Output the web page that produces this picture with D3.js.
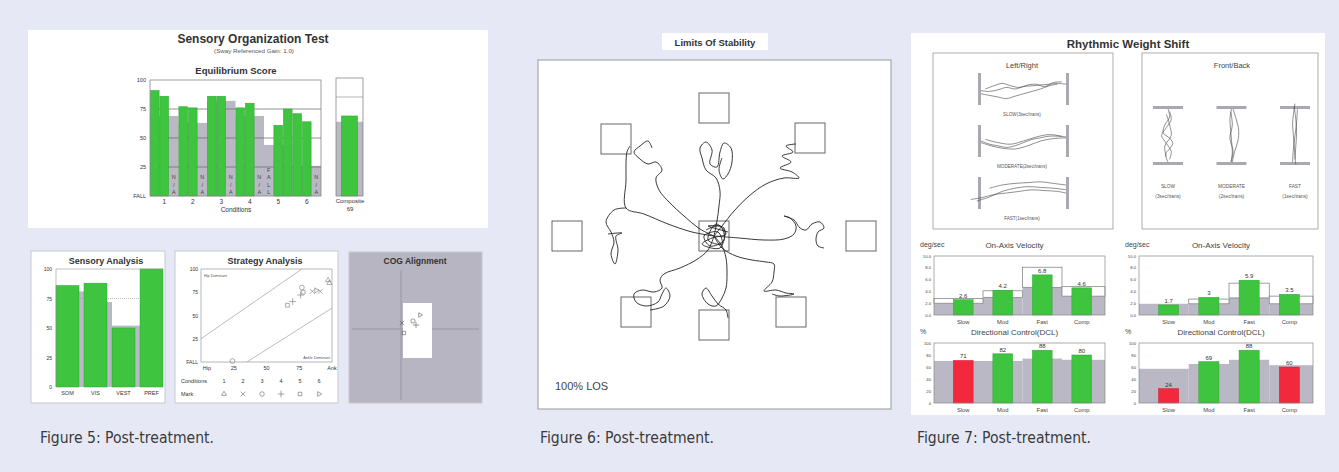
<!DOCTYPE html>
<html>
<head>
<meta charset="utf-8">
<script src="https://cdn.jsdelivr.net/npm/d3@7"></script>
<style>
  body { margin: 0; background: #e6e9f5; }
  svg { display: block; font-family: "Liberation Sans", Arial, sans-serif; }
</style>
</head>
<body>
<script>
"use strict"

// ---------- data ----------
// Figure 5 : Sensory Organization Test
const sotConditions = ["1", "2", "3", "4", "5", "6"];
const sotScores = [[91, 86, null], [77, 76, null], [86, 86, null], [76, 80, null], [null, 61, 75], [71, 64, null]];
const sotNotes = ["N/A", "N/A", "N/A", "N/A", "FALL", "N/A"];   // written in the empty trial slot
const sotNorm = [69, 63, 82, 69, 44, 26];
const sotTicks = [0, 25, 50, 75, 100];
const compositeScore = 69;
const compositeNorm = 64;

const sensoryCats = ["SOM", "VIS", "VEST", "PREF"];
const sensoryValues = [86, 88, 50, 100];
const sensoryNorm = [81, 72, 52, 70];

const strategyTicks = [0, 25, 50, 75, 100];
const strategyXLabels = ["Hip", "25", "50", "75", "Ank"];
const strategyUpper = [[0, 25], [77, 100]];
const strategyLower = [[35, 0], [100, 58]];
const strategyMarks = ["triangle", "times", "circle", "plus", "square", "play"];
const strategyPoints = [
  [1, 97, 88], [1, 98, 85], [2, 85, 76], [2, 91, 76], [3, 77, 80], [3, 24, 1],
  [4, 70, 65], [4, 76, 72], [5, 66, 61], [5, 78, 75], [6, 88, 77]
];
const cogPoints = [[-14, -6, "times"], [-3, -8, "circle"], [4, -14, "play"], [-12, 4, "square"], [0, -4, "plus"]];

// Figure 6 : Limits Of Stability (trace units, centre = 0,0)
const losTargets = [[0, -128], [-98, -97], [96, -98], [-147, 0], [147, 0], [-78, 76], [0, 89], [77, 76], [0, 0]];
const losTraces = [
  [[0, 0], [3, -15], [5, -30], [6, -45], [2, -58], [-8, -66], [-12, -78], [-14, -88], [-8, -94], [-2, -86], [-4, -72], [3, -69], [6, -84], [10, -93], [17, -88], [18, -74], [14, -62], [9, -57], [5, -66], [8, -78]],
  [[0, 0], [-14, -7], [-30, -20], [-44, -33], [-55, -46], [-58, -58], [-52, -66], [-58, -74], [-66, -72], [-74, -77], [-80, -84], [-74, -90], [-66, -95], [-62, -88]],
  [[0, 0], [-22, -4], [-46, -12], [-70, -22], [-88, -28], [-88, -55], [-87, -84], [-84, -90]],
  [[-88, -28], [-100, -26], [-108, -14], [-103, -4], [-100, 6], [-103, 18], [-99, 28], [-96, 14], [-98, 0], [-92, -3], [-106, -2]],
  [[0, 0], [8, -10], [20, -25], [35, -40], [52, -52], [70, -58], [85, -58], [78, -64], [66, -68], [77, -74], [68, -80], [79, -84], [72, -90], [82, -92]],
  [[0, 0], [25, 2], [50, 4], [70, 3], [80, -2], [82, -10], [76, -18], [70, -20], [80, -16], [86, -8], [92, -6], [98, -12], [106, -14], [110, -8], [104, -4], [102, 4], [104, 10], [110, 12]],
  [[0, 0], [8, 12], [22, 20], [38, 24], [52, 26], [60, 28], [60, 36], [58, 46], [50, 55], [62, 54], [72, 57], [80, 58], [66, 60], [58, 58]],
  [[0, 0], [8, 10], [12, 22], [13, 38], [12, 52], [8, 62], [2, 70], [-6, 68], [-12, 58], [-8, 52], [-2, 60], [4, 68], [12, 74], [14, 82]],
  [[0, 0], [-6, 14], [-18, 24], [-34, 32], [-50, 38], [-54, 44], [-52, 52], [-60, 56], [-72, 54], [-80, 58], [-78, 66], [-68, 70], [-56, 66], [-52, 58], [-48, 52], [-44, 60], [-50, 70], [-64, 74]],
  [[-8, -6], [6, -10], [10, 4], [-4, 10], [-10, 0], [4, -4], [8, 8], [-6, 4], [2, -12], [12, -2], [-2, 2], [-12, 8], [6, 12], [10, -8], [-6, -10], [14, -4]]
];

// Figure 7 : Rhythmic Weight Shift
const lrRows = ["SLOW(3sec/trans)", "MODERATE(2sec/trans)", "FAST(1sec/trans)"];
const lrTraces = [
  [[[0, 2], [10, 3], [20, 1], [30, -2], [40, 0], [50, -3], [60, -4], [70, -5], [80, -6], [90, -7], [100, -6]],
   [[0, 6], [10, 8], [20, 10], [30, 12], [40, 9], [50, 6], [60, 3], [70, 0], [80, -4], [90, -6]],
   [[5, 0], [15, -4], [25, -7], [35, -4], [45, -2], [55, -5], [65, -6], [75, -3], [85, -8], [95, -9]]],
  [[[0, 0], [10, 4], [20, 6], [30, 8], [40, 6], [50, 2], [60, -2], [70, -4], [80, -6], [90, -6], [100, -5]],
   [[0, 2], [12, 6], [25, 9], [40, 10], [55, 6], [70, 0], [85, -3], [100, -4]],
   [[5, -2], [20, 2], [35, 4], [50, 0], [65, -5], [80, -8], [95, -6]]],
  [[[-12, 8], [0, 6], [15, 2], [30, 0], [45, -2], [60, -4], [75, -3], [90, -2], [100, 0]],
   [[10, -6], [25, -10], [40, -12], [55, -13], [70, -14], [85, -12], [100, -10]],
   [[-5, 10], [10, 5], [25, -2], [40, -6], [55, -8], [70, -7], [85, -6], [100, -4]]]
];
const fbCols = ["SLOW", "MODERATE", "FAST"];
const fbTraces = [
  [[[0, 0], [15, 2], [30, -4], [45, -6], [55, 2], [65, 6], [75, 2], [85, -3], [100, 0]],
   [[5, 2], [20, 4], [35, -2], [50, -8], [65, -2], [80, 4], [95, 2]],
   [[10, -2], [30, 2], [50, 4], [70, -4], [90, -2]]],
  [[[0, 0], [20, -2], [40, -1], [60, 0], [80, 1], [100, 0]],
   [[0, 2], [20, 6], [40, 9], [60, 8], [80, 4], [100, 1]],
   [[5, -1], [30, 1], [55, -2], [80, 2], [100, -1]]],
  [[[-10, 0], [10, -2], [30, -3], [50, -2], [70, -1], [90, 0], [105, 1]],
   [[0, 3], [25, 2], [50, 0], [75, -2], [100, -3]],
   [[-5, -1], [20, 1], [45, 2], [70, 1], [95, 0]]]
];
const speedCats = ["Slow", "Mod", "Fast", "Comp"];
const velTicks = [0, 2, 4, 6, 8, 10];
const dclTicks = [0, 20, 40, 60, 80, 100];
const velLeft = [2.6, 4.2, 6.8, 4.6];
const velLeftLabels = ["2.6", "4.2", "6.8", "4.6"];
const velLeftNorm = [2.0, 3.0, 4.7, 3.2];
const velLeftUpper = [2.8, 4.1, 8.1, 4.8];
const dclLeft = [71, 82, 88, 80];
const dclLeftNorm = [70, 70, 74, 72];
const dclLeftFail = [true, false, false, false];
const velRight = [1.7, 3.0, 5.9, 3.5];
const velRightLabels = ["1.7", "3", "5.9", "3.5"];
const velRightNorm = [1.9, 1.9, 2.9, 1.9];
const velRightUpper = [1.9, 2.7, 5.4, 3.2];
const dclRight = [24, 69, 88, 60];
const dclRightNorm = [57, 65, 72, 63];
const dclRightFail = [true, false, false, true];

const captions = ["Figure 5: Post-treatment.", "Figure 6: Post-treatment.", "Figure 7: Post-treatment."];

// ---------- styles ----------
const GREEN = "#3ec43f";
const GREEN_EDGE = "#2fa532";
const GREY = "#bab8c4";
const RED = "#f2283d";
const INK = "#333";

const svg = d3.select("body").append("svg")
  .attr("width", 1339)
  .attr("height", 472);

svg.append("rect").attr("width", 1339).attr("height", 472).attr("fill", "#e6e9f5");

function txt(g, x, y, s, size, opt) {
  opt = opt || {};
  return g.append("text")
    .attr("x", x).attr("y", y)
    .attr("font-size", size)
    .attr("font-weight", opt.bold ? "bold" : null)
    .attr("text-anchor", opt.anchor || "middle")
    .attr("fill", opt.fill || INK)
    .text(s);
}

function symbolPath(name, size) {
  const map = {
    triangle: d3.symbolTriangle2, times: d3.symbolTimes, circle: d3.symbolCircle,
    plus: d3.symbolPlus, square: d3.symbolSquare2, play: d3.symbolTriangle2
  };
  return d3.symbol(map[name], size)();
}

// =================== Figure 5 ===================
const f5 = svg.append("g");
f5.append("rect").attr("x", 28).attr("y", 30).attr("width", 460).attr("height", 198).attr("fill", "#fff");

txt(f5, 253, 43, "Sensory Organization Test", 12, { bold: true });
txt(f5, 254, 53, "(Sway Referenced Gain: 1.0)", 6.2, { fill: "#555" });
txt(f5, 236, 74, "Equilibrium Score", 9.5, { bold: true });

const sotX = d3.scaleBand().domain(sotConditions).range([150, 321]);
const trialX = d3.scaleBand().domain([0, 1, 2]).range([0, sotX.bandwidth()]).paddingInner(0.08).paddingOuter(0.04);
const sotY = d3.scaleLinear().domain([0, 100]).range([196, 80]);

f5.selectAll("rect.norm")
  .data(sotConditions)
  .enter()
  .append("rect")
  .attr("x", d => sotX(d))
  .attr("width", sotX.bandwidth())
  .attr("y", (d, i) => sotY(sotNorm[i]))
  .attr("height", (d, i) => sotY(0) - sotY(sotNorm[i]))
  .attr("fill", GREY);

f5.selectAll("line.grid")
  .data([25, 50, 75])
  .enter()
  .append("line")
  .attr("x1", 150).attr("x2", 321)
  .attr("y1", d => sotY(d)).attr("y2", d => sotY(d))
  .attr("stroke", "#666").attr("stroke-width", 0.7);

const sotFlat = sotConditions.flatMap((c, i) => sotScores[i].map((v, j) => ({ c: c, j: j, v: v, note: sotNotes[i] })));

f5.selectAll("rect.trial")
  .data(sotFlat.filter(d => d.v != null))
  .enter()
  .append("rect")
  .attr("x", d => sotX(d.c) + trialX(d.j))
  .attr("width", trialX.bandwidth())
  .attr("y", d => sotY(d.v))
  .attr("height", d => sotY(0) - sotY(d.v))
  .attr("fill", GREEN)
  .attr("stroke", GREEN_EDGE).attr("stroke-width", 0.5);

sotFlat.filter(d => d.v == null).forEach(d => {
  const chars = d.note.split("");
  chars.forEach((ch, k) => {
    txt(f5, sotX(d.c) + trialX(d.j) + trialX.bandwidth() / 2, 194 - (chars.length - 1 - k) * 7.5, ch, 5.5, { fill: "#444" });
  });
});

f5.append("rect").attr("x", 150).attr("y", 80).attr("width", 171).attr("height", 116)
  .attr("fill", "none").attr("stroke", "#888").attr("stroke-width", 0.8);

f5.selectAll("text.sy")
  .data(sotTicks)
  .enter()
  .append("text")
  .attr("x", 146).attr("y", d => sotY(d) + 2)
  .attr("text-anchor", "end").attr("font-size", 5.5).attr("fill", INK)
  .text(d => d === 0 ? "FALL" : d);

f5.selectAll("text.sx")
  .data(sotConditions)
  .enter()
  .append("text")
  .attr("x", d => sotX(d) + sotX.bandwidth() / 2).attr("y", 204)
  .attr("text-anchor", "middle").attr("font-size", 6.5).attr("fill", INK)
  .text(d => d);
txt(f5, 236, 212, "Conditions", 6.5);

// composite
const compX = d3.scaleBand().domain(["Composite"]).range([336, 363]).padding(0.25);
f5.append("rect").attr("x", 336).attr("width", 27)
  .attr("y", sotY(compositeNorm)).attr("height", sotY(0) - sotY(compositeNorm)).attr("fill", GREY);
f5.append("rect").attr("x", compX("Composite")).attr("width", compX.bandwidth())
  .attr("y", sotY(compositeScore)).attr("height", sotY(0) - sotY(compositeScore))
  .attr("fill", GREEN).attr("stroke", GREEN_EDGE).attr("stroke-width", 0.5);
f5.append("rect").attr("x", 336).attr("y", 78).attr("width", 27).attr("height", 118)
  .attr("fill", "none").attr("stroke", "#888").attr("stroke-width", 0.8);
f5.append("line").attr("x1", 336).attr("x2", 363).attr("y1", 97).attr("y2", 97).attr("stroke", "#888").attr("stroke-width", 0.6);
txt(f5, 350, 203, "Composite", 6);
txt(f5, 350, 211, compositeScore, 6);

// Sensory Analysis
const sa = svg.append("g");
sa.append("rect").attr("x", 31).attr("y", 251).attr("width", 134).attr("height", 152)
  .attr("fill", "#fff").attr("stroke", "#c8c8d0");
txt(sa, 106, 264, "Sensory Analysis", 9, { bold: true });
const saX = d3.scaleBand().domain(sensoryCats).range([56, 163]).paddingInner(0.18);
const saY = d3.scaleLinear().domain([0, 100]).range([387, 269]);
sa.selectAll("rect.norm")
  .data(sensoryCats)
  .enter()
  .append("rect")
  .attr("x", d => saX(d))
  .attr("width", (d, i) => i < 3 ? saX.step() : saX.bandwidth())
  .attr("y", (d, i) => saY(sensoryNorm[i]))
  .attr("height", (d, i) => saY(0) - saY(sensoryNorm[i]))
  .attr("fill", GREY);
sa.append("line").attr("x1", 56).attr("x2", 163).attr("y1", saY(75)).attr("y2", saY(75))
  .attr("stroke", "#999").attr("stroke-width", 0.6).attr("stroke-dasharray", "1,1");
sa.selectAll("rect.val")
  .data(sensoryValues)
  .enter()
  .append("rect")
  .attr("x", (d, i) => saX(sensoryCats[i]))
  .attr("width", saX.bandwidth())
  .attr("y", d => saY(d))
  .attr("height", d => saY(0) - saY(d))
  .attr("fill", GREEN).attr("stroke", GREEN_EDGE).attr("stroke-width", 0.5);
sa.append("line").attr("x1", 56).attr("x2", 163).attr("y1", 269).attr("y2", 269).attr("stroke", "#999").attr("stroke-width", 0.6);
sa.append("line").attr("x1", 56).attr("x2", 56).attr("y1", 269).attr("y2", 387).attr("stroke", "#999").attr("stroke-width", 0.6);
sa.selectAll("text.y")
  .data(sotTicks)
  .enter()
  .append("text")
  .attr("x", 52).attr("y", d => saY(d) + 2)
  .attr("text-anchor", "end").attr("font-size", 5).attr("fill", INK)
  .text(d => d);
sa.selectAll("text.x")
  .data(sensoryCats)
  .enter()
  .append("text")
  .attr("x", d => saX(d) + saX.bandwidth() / 2).attr("y", 395)
  .attr("text-anchor", "middle").attr("font-size", 5.5).attr("fill", INK)
  .text(d => d);

// Strategy Analysis
const st = svg.append("g");
st.append("rect").attr("x", 175).attr("y", 251).attr("width", 163).attr("height", 152)
  .attr("fill", "#fff").attr("stroke", "#c8c8d0");
txt(st, 265, 264, "Strategy Analysis", 9, { bold: true });
const stX = d3.scaleLinear().domain([0, 100]).range([201, 332]);
const stY = d3.scaleLinear().domain([0, 100]).range([362, 269]);
st.append("rect").attr("x", 201).attr("y", 269).attr("width", 131).attr("height", 93)
  .attr("fill", "none").attr("stroke", "#999").attr("stroke-width", 0.7);
const stLine = d3.line().x(d => stX(d[0])).y(d => stY(d[1]));
[strategyUpper, strategyLower].forEach(l => {
  st.append("path").attr("d", stLine(l)).attr("stroke", "#aaa").attr("stroke-width", 0.8).attr("fill", "none");
});
txt(st, 204, 277, "Hip Dominant", 3.8, { anchor: "start", fill: "#555" });
txt(st, 330, 359, "Ankle Dominant", 3.8, { anchor: "end", fill: "#555" });
st.selectAll("path.pt")
  .data(strategyPoints)
  .enter()
  .append("path")
  .attr("d", d => symbolPath(strategyMarks[d[0] - 1], 18))
  .attr("transform", d => "translate(" + stX(d[1]) + "," + stY(d[2]) + ")" + (strategyMarks[d[0] - 1] === "play" ? " rotate(90)" : ""))
  .attr("fill", "none").attr("stroke", "#777").attr("stroke-width", 0.6);
st.selectAll("text.y")
  .data(strategyTicks)
  .enter()
  .append("text")
  .attr("x", 198).attr("y", d => stY(d) + 2)
  .attr("text-anchor", "end").attr("font-size", 5).attr("fill", INK)
  .text(d => d === 0 ? "FALL" : d);
st.selectAll("text.x")
  .data(strategyTicks)
  .enter()
  .append("text")
  .attr("x", d => stX(d) + (d === 0 ? 6 : 0)).attr("y", 370)
  .attr("text-anchor", "middle").attr("font-size", 5.5).attr("fill", INK)
  .text((d, i) => strategyXLabels[i]);
const condX = d3.scalePoint().domain(sotConditions).range([224, 319]);
txt(st, 181, 383, "Conditions", 5.5, { anchor: "start" });
txt(st, 181, 396, "Mark", 5.5, { anchor: "start" });
st.selectAll("text.c")
  .data(sotConditions)
  .enter()
  .append("text")
  .attr("x", d => condX(d)).attr("y", 383)
  .attr("text-anchor", "middle").attr("font-size", 5.5).attr("fill", INK)
  .text(d => d);
st.selectAll("path.mk")
  .data(sotConditions)
  .enter()
  .append("path")
  .attr("d", (d, i) => symbolPath(strategyMarks[i], 16))
  .attr("transform", (d, i) => "translate(" + condX(d) + ",394)" + (strategyMarks[i] === "play" ? " rotate(90)" : ""))
  .attr("fill", "none").attr("stroke", "#666").attr("stroke-width", 0.6);

// COG Alignment
const cg = svg.append("g");
cg.append("rect").attr("x", 349).attr("y", 252).attr("width", 133).attr("height", 151)
  .attr("fill", "#b7b5c2").attr("stroke", "#c8c8d0");
txt(cg, 415, 264, "COG Alignment", 8.5, { bold: true });
cg.append("line").attr("x1", 401).attr("x2", 401).attr("y1", 270).attr("y2", 400).attr("stroke", "#8c8a96").attr("stroke-width", 0.7);
cg.append("line").attr("x1", 352).attr("x2", 479).attr("y1", 329).attr("y2", 329).attr("stroke", "#8c8a96").attr("stroke-width", 0.7);
cg.append("rect").attr("x", 403).attr("y", 303).attr("width", 29).attr("height", 55).attr("fill", "#fff");
const cgX = d3.scaleLinear().domain([-50, 50]).range([366, 466]);
const cgY = d3.scaleLinear().domain([-50, 50]).range([279, 379]);
cg.selectAll("path.pt")
  .data(cogPoints)
  .enter()
  .append("path")
  .attr("d", d => symbolPath(d[2], 14))
  .attr("transform", d => "translate(" + cgX(d[0]) + "," + cgY(d[1]) + ")" + (d[2] === "play" ? " rotate(90)" : ""))
  .attr("fill", "none").attr("stroke", "#555").attr("stroke-width", 0.6);

// =================== Figure 6 ===================
const f6 = svg.append("g");
f6.append("rect").attr("x", 662).attr("y", 33).attr("width", 106).attr("height", 17).attr("fill", "#fff");
txt(f6, 715, 46, "Limits Of Stability", 9.5, { bold: true });
f6.append("rect").attr("x", 538).attr("y", 60).attr("width", 353).attr("height", 349)
  .attr("fill", "#fff").attr("stroke", "#999").attr("stroke-width", 1);
const losX = d3.scaleLinear().domain([-176, 177]).range([538, 891]);
const losY = d3.scaleLinear().domain([-176, 173]).range([60, 409]);
f6.selectAll("rect.target")
  .data(losTargets)
  .enter()
  .append("rect")
  .attr("x", d => losX(d[0] - 15)).attr("y", d => losY(d[1] - 15))
  .attr("width", d => losX(d[0] + 15) - losX(d[0] - 15))
  .attr("height", d => losY(d[1] + 15) - losY(d[1] - 15))
  .attr("fill", "none").attr("stroke", "#666").attr("stroke-width", 1);
const losLine = d3.line().x(d => losX(d[0])).y(d => losY(d[1])).curve(d3.curveCatmullRom);
f6.selectAll("path.trace")
  .data(losTraces)
  .enter()
  .append("path")
  .attr("d", d => losLine(d))
  .attr("fill", "none").attr("stroke", "#222").attr("stroke-width", 0.9);
txt(f6, 555, 390, "100% LOS", 11, { anchor: "start", fill: "#444" });

// =================== Figure 7 ===================
const f7 = svg.append("g");
f7.append("rect").attr("x", 911).attr("y", 33).attr("width", 414).attr("height", 382).attr("fill", "#fff");
txt(f7, 1128, 48, "Rhythmic Weight Shift", 11.5, { bold: true });

// Left/Right box
f7.append("rect").attr("x", 933).attr("y", 53).attr("width", 180).attr("height", 176)
  .attr("fill", "none").attr("stroke", "#999").attr("stroke-width", 0.8);
txt(f7, 1022, 68, "Left/Right", 7.5, { fill: "#444" });
const lrX = d3.scaleLinear().domain([0, 100]).range([981, 1066]);
const lrRowY = d3.scalePoint().domain(lrRows).range([89, 193]);
lrRows.forEach((row, r) => {
  const cy = lrRowY(row);
  const yS = d3.scaleLinear().domain([-20, 20]).range([cy - 16, cy + 16]);
  [0, 100].forEach(v => {
    f7.append("rect").attr("x", lrX(v) + (v === 0 ? -3 : 0)).attr("y", cy - 16).attr("width", 3).attr("height", 32).attr("fill", "#a9a9b0");
  });
  const ln = d3.line().x(d => lrX(d[0])).y(d => yS(d[1])).curve(d3.curveCatmullRom);
  lrTraces[r].forEach(t => {
    f7.append("path").attr("d", ln(t)).attr("fill", "none").attr("stroke", "#444").attr("stroke-width", 0.6);
  });
  txt(f7, 1022, cy + 27, row, 4.6, { fill: "#555" });
});

// Front/Back box
f7.append("rect").attr("x", 1142).attr("y", 53).attr("width", 176).attr("height", 176)
  .attr("fill", "none").attr("stroke", "#999").attr("stroke-width", 0.8);
txt(f7, 1232, 68, "Front/Back", 7.5, { fill: "#444" });
const fbY = d3.scaleLinear().domain([0, 100]).range([109, 162]);
const fbColX = d3.scalePoint().domain(fbCols).range([1168, 1295]);
const fbSub = ["(3sec/trans)", "(2sec/trans)", "(1sec/trans)"];
fbCols.forEach((col, c) => {
  const cx = fbColX(col);
  const xS = d3.scaleLinear().domain([-20, 20]).range([cx - 16, cx + 16]);
  [0, 100].forEach(v => {
    f7.append("rect").attr("x", cx - 15).attr("y", fbY(v) + (v === 0 ? -3 : 0)).attr("width", 30).attr("height", 3).attr("fill", "#a9a9b0");
  });
  const ln = d3.line().x(d => xS(d[1])).y(d => fbY(d[0])).curve(d3.curveCatmullRom);
  fbTraces[c].forEach(t => {
    f7.append("path").attr("d", ln(t)).attr("fill", "none").attr("stroke", "#444").attr("stroke-width", 0.6);
  });
  txt(f7, cx, 188, col, 4.8, { fill: "#555" });
  txt(f7, cx, 198, fbSub[c], 4.8, { fill: "#555" });
});

// velocity + DCL panels
function rwsBars(g, x0, x1, yTop, yBot, vals, labels, norm, upper, fail, ticks, tickFmt, max, title, unit) {
  const x = d3.scaleBand().domain(speedCats).range([x0 + 9.5, x1 - 3.5]).paddingInner(0.5).paddingOuter(0.25);
  const y = d3.scaleLinear().domain([0, max]).range([yBot, yTop]);
  const left = (d, i) => i === 0 ? x0 : x(d) - x.step() * 0.25;
  const right = (d, i) => i === speedCats.length - 1 ? x1 : x(d) + x.bandwidth() + x.step() * 0.25;
  g.selectAll(null)
    .data(speedCats)
    .enter()
    .append("rect")
    .attr("x", left)
    .attr("width", (d, i) => right(d, i) - left(d, i))
    .attr("y", (d, i) => y(norm[i]))
    .attr("height", (d, i) => y(0) - y(norm[i]))
    .attr("fill", GREY);
  if (upper) {
    g.selectAll(null)
      .data(speedCats)
      .enter()
      .append("rect")
      .attr("x", left)
      .attr("width", (d, i) => right(d, i) - left(d, i))
      .attr("y", (d, i) => y(upper[i]))
      .attr("height", (d, i) => Math.max(0, y(norm[i]) - y(upper[i])))
      .attr("fill", "#fff").attr("stroke", "#777").attr("stroke-width", 0.7);
  }
  g.selectAll(null)
    .data(vals)
    .enter()
    .append("rect")
    .attr("x", (d, i) => x(speedCats[i]))
    .attr("width", x.bandwidth())
    .attr("y", d => y(d))
    .attr("height", d => y(0) - y(d))
    .attr("fill", (d, i) => fail[i] ? RED : GREEN)
    .attr("stroke", (d, i) => fail[i] ? "#d01c30" : GREEN_EDGE).attr("stroke-width", 0.5);
  g.selectAll(null)
    .data(vals)
    .enter()
    .append("text")
    .attr("x", (d, i) => x(speedCats[i]) + x.bandwidth() / 2)
    .attr("y", d => y(d) - 2)
    .attr("text-anchor", "middle").attr("font-size", 6).attr("fill", INK)
    .text((d, i) => labels[i]);
  g.append("rect").attr("x", x0).attr("y", yTop).attr("width", x1 - x0).attr("height", yBot - yTop)
    .attr("fill", "none").attr("stroke", "#888").attr("stroke-width", 0.7);
  g.selectAll(null)
    .data(ticks)
    .enter()
    .append("text")
    .attr("x", x0 - 3).attr("y", d => y(d) + 1.5)
    .attr("text-anchor", "end").attr("font-size", 4.2).attr("fill", "#444")
    .text(tickFmt);
  g.selectAll(null)
    .data(speedCats)
    .enter()
    .append("text")
    .attr("x", d => x(d) + x.bandwidth() / 2).attr("y", yBot + 9)
    .attr("text-anchor", "middle").attr("font-size", 5.8).attr("fill", "#444")
    .text(d => d);
  txt(g, x0 - 14, yTop - 9, unit, 7, { anchor: "start", fill: "#444" });
  txt(g, (x0 + x1) / 2 - 5, yTop - 8, title, 8, { fill: "#444" });
}

const fmtVel = d => d.toFixed(1);
const fmtPct = d => d;
rwsBars(f7, 934, 1105, 256, 315, velLeft, velLeftLabels, velLeftNorm, velLeftUpper, [false, false, false, false], velTicks, fmtVel, 10, "On-Axis Velocity", "deg/sec");
rwsBars(f7, 934, 1105, 343, 403, dclLeft, dclLeft, dclLeftNorm, null, dclLeftFail, dclTicks, fmtPct, 100, "Directional Control(DCL)", "%");
rwsBars(f7, 1139, 1313, 256, 315, velRight, velRightLabels, velRightNorm, velRightUpper, [false, false, false, false], velTicks, fmtVel, 10, "On-Axis Velocity", "deg/sec");
rwsBars(f7, 1139, 1313, 343, 403, dclRight, dclRight, dclRightNorm, null, dclRightFail, dclTicks, fmtPct, 100, "Directional Control(DCL)", "%");

// ---------- captions ----------
const capX = [40, 540, 917];
svg.selectAll("text.caption")
  .data(captions)
  .enter()
  .append("text")
  .attr("x", (d, i) => capX[i])
  .attr("y", 443)
  .attr("font-size", 16)
  .attr("font-family", "'Liberation Sans Narrow', 'DejaVu Sans Condensed', sans-serif")
  .attr("textLength", 174)
  .attr("lengthAdjust", "spacingAndGlyphs")
  .attr("fill", "#3a3a3a")
  .text(d => d);
</script>
</body>
</html>
